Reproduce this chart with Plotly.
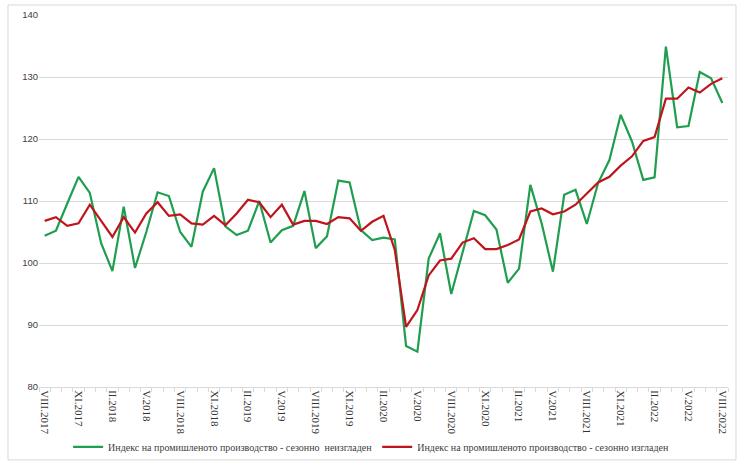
import plotly.graph_objects as go

months_roman = ["I", "II", "III", "IV", "V", "VI", "VII", "VIII", "IX", "X", "XI", "XII"]
periods = []
for k in range(61):
    m = (7 + k) % 12
    y = 2017 + (7 + k) // 12
    periods.append(f"{months_roman[m]}.{y}")

unadjusted = [104.4, 105.2, 109.6, 113.9, 111.3, 103.2, 98.7, 109.1, 99.2, 105.0,
              111.4, 110.8, 105.0, 102.6, 111.5, 115.3, 105.9, 104.5, 105.2, 110.0,
              103.3, 105.3, 106.0, 111.6, 102.4, 104.3, 113.3, 113.0, 105.3, 103.7,
              104.1, 103.8, 86.6, 85.7, 100.7, 104.8, 95.0, 101.8, 108.4, 107.7,
              105.4, 96.8, 99.1, 112.6, 106.4, 98.6, 111.0, 111.8, 106.3, 112.9,
              116.6, 123.9, 119.6, 113.4, 113.8, 134.9, 121.9, 122.1, 130.8, 129.8,
              125.8]

adjusted = [106.8, 107.4, 106.0, 106.4, 109.4, 106.9, 104.2, 107.4, 104.9, 108.0,
            109.8, 107.6, 107.85, 106.4, 106.2, 107.6, 106.1, 108.0, 110.2, 109.8,
            107.4, 109.4, 106.2, 106.8, 106.8, 106.3, 107.4, 107.2, 105.2, 106.65,
            107.6, 102.1, 89.7, 92.4, 98.0, 100.4, 100.7, 103.3, 104.0, 102.25,
            102.25, 102.9, 103.8, 108.3, 108.8, 107.85, 108.3, 109.4, 111.2, 113.0,
            113.9, 115.7, 117.2, 119.7, 120.3, 126.5, 126.5, 128.3, 127.5, 128.9,
            129.8]

name_unadj = "Индекс на промишленото производство - сезонно  неизгладен"
name_adj = "Индекс на промишленото производство - сезонно изгладен"

idx = list(range(len(periods)))
tick_idx = idx[::3]
tick_text = [periods[i] for i in tick_idx]

serif = "Liberation Serif, Times New Roman, serif"

fig = go.Figure()
fig.add_trace(go.Scatter(x=idx, y=unadjusted, mode="lines", name=name_unadj,
                         line=dict(color="#1f9e50", width=2.2)))
fig.add_trace(go.Scatter(x=idx, y=adjusted, mode="lines", name=name_adj,
                         line=dict(color="#c0141c", width=2.2)))

fig.update_layout(
    width=740, height=466,
    margin=dict(l=39, r=12, t=15, b=79, autoexpand=False),
    paper_bgcolor="white", plot_bgcolor="white",
    showlegend=True,
    legend=dict(orientation="h", x=0.482, xanchor="center",
                yref="container", y=0.041, yanchor="middle",
                bgcolor="rgba(0,0,0,0)",
                font=dict(family=serif, size=10, color="#404040"),
                itemwidth=30, tracegroupgap=0),
    xaxis=dict(range=[-0.5, 60.5], tickmode="array", tickvals=tick_idx, ticktext=tick_text,
               tickangle=90, ticks="", showgrid=False, zeroline=False, automargin=False,
               showline=True, linecolor="#d9d9d9", linewidth=1,
               tickfont=dict(family=serif, size=11, color="#333333"),
               minor=dict(ticks="outside", ticklen=4, tickcolor="#d9d9d9", tick0=-0.5, dtick=1,
                          showgrid=False)),
    yaxis=dict(range=[80, 140], dtick=10, showgrid=True, gridcolor="#d9d9d9", gridwidth=1,
               zeroline=False, showline=False, ticks="", automargin=False,
               tickfont=dict(family="Liberation Sans, Arial, sans-serif", size=9.5, color="#404040")),
    shapes=[dict(type="rect", xref="paper", yref="paper", x0=-0.045, x1=1.0116,
                 y0=-0.196, y1=1.027, line=dict(color="#d9d9d9", width=1), layer="below")],
)

fig.write_html("out.html", config={"displayModeBar": False},
               post_script="document.body.style.margin='0';")
